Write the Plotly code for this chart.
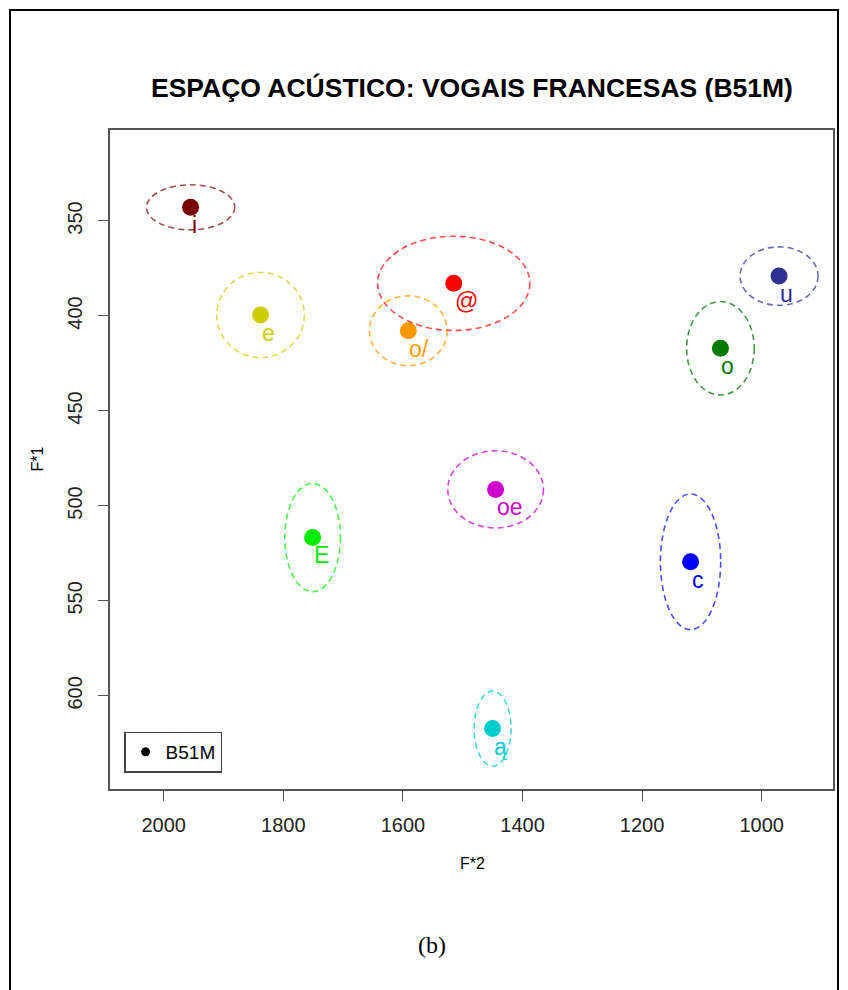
import plotly.graph_objects as go

# ---- data ----
vowels = ["i", "e", "E", "@", "o/", "oe", "u", "o", "c", "ą"]
f2_vals = [1955, 1838, 1751, 1515, 1591, 1445, 971, 1069, 1119, 1450]
f1_vals = [342.8, 399.5, 516.6, 382.8, 407.8, 491.3, 379.0, 417.0, 529.4, 617.2]
# ellipse half-widths (F2 units) and half-heights (F1 units)
ell_f2 = [73.8, 73.2, 46.5, 127.3, 65.0, 80.0, 65.2, 56.5, 50.4, 30.9]
ell_f1 = [11.85, 22.4, 28.5, 24.8, 18.4, 20.35, 15.4, 24.6, 35.7, 19.7]
colors = ["#7a0000", "#cdcd00", "#00ee00", "#ff0000", "#ff9900",
          "#cd00cd", "#2e3192", "#007a00", "#0000ff", "#00cdcd"]
ell_colors = ["rgba(122,0,0,0.7)", "rgba(205,205,0,0.7)", "rgba(0,238,0,0.7)",
              "rgba(255,0,0,0.7)", "rgba(255,153,0,0.75)", "rgba(205,0,205,0.75)",
              "rgba(46,49,146,0.7)", "rgba(0,122,0,0.75)", "rgba(0,0,255,0.7)",
              "rgba(0,205,205,0.75)"]
x_ticks = [2000, 1800, 1600, 1400, 1200, 1000]
y_ticks = [350, 400, 450, 500, 550, 600]
x_range = [2089.8, 880.8]
y_range = [649.0, 302.1]
speaker = "B51M"

fig = go.Figure()

for v, x, y, c in zip(vowels, f2_vals, f1_vals, colors):
    fig.add_trace(go.Scatter(x=[x], y=[y], mode="markers",
                             marker=dict(size=17, color=c), showlegend=False,
                             hoverinfo="skip"))

fig.add_trace(go.Scatter(x=[None], y=[None], mode="markers", name=speaker,
                         marker=dict(size=9, color="black"), showlegend=True))

shapes = []
for x, y, a, b, c in zip(f2_vals, f1_vals, ell_f2, ell_f1, ell_colors):
    shapes.append(dict(type="circle", xref="x", yref="y",
                       x0=x - a, x1=x + a, y0=y - b, y1=y + b,
                       line=dict(color=c, width=1.6, dash="6px,4px")))

# outer frame of the figure
shapes.append(dict(type="rect", xref="paper", yref="paper",
                   x0=-0.1383, x1=1.0069, y0=-0.33, y1=1.1821,
                   line=dict(color="black", width=2)))

annotations = []
for v, x, y, c in zip(vowels, f2_vals, f1_vals, colors):
    annotations.append(dict(x=x, y=y, xref="x", yref="y", text=v,
                            showarrow=False, xanchor="left", yanchor="top",
                            xshift=-1, yshift=-3,
                            font=dict(family="Liberation Sans", size=23, color=c)))

annotations.append(dict(x=0.5, y=1.0 + (130 - 88) / 659, xref="paper", yref="paper",
                        text="<b>ESPAÇO ACÚSTICO: VOGAIS FRANCESAS (B51M)</b>",
                        showarrow=False, xanchor="center", yanchor="middle",
                        font=dict(family="Liberation Sans", size=26.5, color="black")))
annotations.append(dict(x=(472 - 110) / 723, y=(789 - 863) / 659, xref="paper", yref="paper",
                        text="F*2", showarrow=False, xanchor="center", yanchor="middle",
                        font=dict(family="Liberation Sans", size=16, color="black")))
annotations.append(dict(x=(37 - 110) / 723, y=(789 - 459.5) / 659, xref="paper", yref="paper",
                        text="F*1", showarrow=False, xanchor="center", yanchor="middle",
                        textangle=-90,
                        font=dict(family="Liberation Sans", size=16, color="black")))
annotations.append(dict(x=(432 - 110) / 723, y=(789 - 945) / 659, xref="paper", yref="paper",
                        text="(b)", showarrow=False, xanchor="center", yanchor="middle",
                        font=dict(family="Liberation Serif", size=24, color="black")))

fig.update_layout(
    width=848, height=990,
    margin=dict(l=110, r=15, t=130, b=201, autoexpand=False),
    paper_bgcolor="white", plot_bgcolor="white",
    shapes=shapes, annotations=annotations,
    showlegend=True,
    legend=dict(x=(124.3 - 110) / 723, y=(789 - 731.7) / 659,
                xanchor="left", yanchor="top",
                bordercolor="#444", borderwidth=1.3, bgcolor="white",
                font=dict(family="Liberation Sans", size=19, color="black"),
                itemsizing="trace"),
    xaxis=dict(range=x_range, tickvals=x_ticks, ticktext=[str(t) for t in x_ticks],
               showgrid=False, zeroline=False, showline=True, mirror=True,
               linecolor="#555", linewidth=1.5, ticks="outside", ticklen=10,
               tickcolor="#555", tickwidth=1.3, ticklabelstandoff=7,
               tickfont=dict(family="Liberation Sans", size=20, color="#222")),
    yaxis=dict(range=y_range, tickvals=y_ticks, ticktext=[str(t) for t in y_ticks],
               showgrid=False, zeroline=False, showline=True, mirror=True,
               linecolor="#555", linewidth=1.5, ticks="outside", ticklen=10,
               tickcolor="#555", tickwidth=1.3, tickangle=-90, ticklabelstandoff=8,
               tickfont=dict(family="Liberation Sans", size=20, color="#222")),
)

fig.write_html("out.html")
